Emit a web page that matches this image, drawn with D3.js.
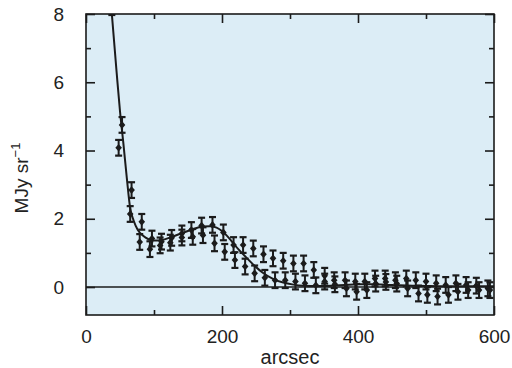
<!DOCTYPE html>
<html><head><meta charset="utf-8">
<script src="https://cdn.jsdelivr.net/npm/d3@7/dist/d3.min.js"></script>
<style>html,body{margin:0;padding:0;background:#fff;}svg{display:block;}</style>
</head><body>
<script>
// ---- data ----
const xTicks = [0, 200, 400, 600];
const xMinor = [100, 300, 500];
const yTicks = [0, 2, 4, 6, 8];
const yMinor = [1, 3, 5, 7];
const xLabel = "arcsec";

// series A (arcsec, MJy/sr)
const aX = [38,53,67,82,97,111,126,141,155,170,186,202,217,231,246,261,275,290,305,320,335,351,365,381,396,410,425,440,455,471,485,500,515,529,544,559,574,591];
const aY = [8.2,4.75,2.84,1.91,1.42,1.33,1.44,1.57,1.67,1.80,1.82,1.60,1.23,1.23,1.13,0.96,0.84,0.77,0.69,0.69,0.50,0.33,0.20,0.20,0.16,0.16,0.25,0.25,0.20,0.25,0.20,0.16,0.11,0.06,0.11,0.06,0.04,-0.04];
// series B
const bX = [48,65,79,94,109,124,141,157,172,189,204,219,234,248,263,278,293,308,322,338,351,366,383,398,413,426,441,457,473,489,502,517,533,547,562,578,594];
const bY = [4.08,2.14,1.32,1.11,1.22,1.30,1.45,1.47,1.52,1.28,1.03,0.79,0.60,0.40,0.27,0.20,0.20,0.16,0.11,0.05,0.16,0.08,-0.04,-0.14,-0.09,0.10,0.15,0.10,-0.04,-0.19,-0.23,-0.28,-0.23,-0.14,-0.09,-0.09,-0.09];
const errBar = 0.23;

// model curve
const cX = [38,45,50,55,60,65,70,76,84,92,100,110,125,140,158,172,182,192,200,210,220,234,248,260,275,290,305,320,340,360,380,400,420,440,460,480,500,530,560,600];
const cY = [8.0,6.3,5.15,4.2,3.2,2.3,1.95,1.68,1.50,1.40,1.36,1.37,1.46,1.57,1.70,1.77,1.78,1.74,1.64,1.44,1.20,0.90,0.62,0.42,0.24,0.13,0.07,0.04,0.03,0.04,0.06,0.08,0.08,0.07,0.05,0.04,0.03,0.02,0.02,0.02];

// ---- layout ----
const W = 512, H = 368;
const L = 86, R = 494, T = 14, B = 315;
const ink = "#1b1b1b";

const x = d3.scaleLinear().domain([0, 600]).range([L, R]);
const y = d3.scaleLinear().domain([-0.82, 8]).range([B, T]);

const svg = d3.select("body").append("svg").attr("width", W).attr("height", H)
  .style("font-family", "'Liberation Sans', Arial, sans-serif");

svg.append("rect").attr("x", L).attr("y", T).attr("width", R - L).attr("height", B - T)
  .attr("fill", "#dcedf6");

svg.append("defs").append("clipPath").attr("id", "clip")
  .append("rect").attr("x", L).attr("y", T).attr("width", R - L).attr("height", B - T);

const plot = svg.append("g").attr("clip-path", "url(#clip)");

// zero line
plot.append("line").attr("x1", L).attr("x2", R).attr("y1", y(0)).attr("y2", y(0))
  .attr("stroke", ink).attr("stroke-width", 1.6);

// curve
const line = d3.line().x((d, i) => x(cX[i])).y((d, i) => y(cY[i])).curve(d3.curveMonotoneX);
plot.append("path").datum(cX).attr("d", line).attr("fill", "none")
  .attr("stroke", ink).attr("stroke-width", 2);

// points with error bars
function drawSeries(xs, ys) {
  const pts = xs.map((v, i) => ({ x: v, y: ys[i] }));
  const g = plot.append("g").selectAll("g").data(pts).join("g")
    .attr("transform", d => `translate(${x(d.x)},0)`);
  g.append("line").attr("x1", 0).attr("x2", 0)
    .attr("y1", d => y(d.y - errBar)).attr("y2", d => y(d.y + errBar))
    .attr("stroke", ink).attr("stroke-width", 2);
  g.append("line").attr("x1", -3.5).attr("x2", 3.5)
    .attr("y1", d => y(d.y - errBar)).attr("y2", d => y(d.y - errBar))
    .attr("stroke", ink).attr("stroke-width", 2.2);
  g.append("line").attr("x1", -3.5).attr("x2", 3.5)
    .attr("y1", d => y(d.y + errBar)).attr("y2", d => y(d.y + errBar))
    .attr("stroke", ink).attr("stroke-width", 2.2);
  g.append("path").attr("d", d => {
      const cy = y(d.y);
      return `M0,${cy - 3.8}L3.3,${cy}L0,${cy + 3.8}L-3.3,${cy}Z`;
    }).attr("fill", ink);
}
drawSeries(aX, aY);
drawSeries(bX, bY);

// frame
svg.append("rect").attr("x", L).attr("y", T).attr("width", R - L).attr("height", B - T)
  .attr("fill", "none").attr("stroke", ink).attr("stroke-width", 1.6);

// axes with inward ticks on all four sides
const fmt = d3.format("d");
function styleAxis(g) {
  g.select(".domain").remove();
  g.selectAll(".tick line").attr("stroke", ink).attr("stroke-width", 1.6);
  g.selectAll("text").attr("fill", "#222");
}
// bottom
svg.append("g").attr("transform", `translate(0,${B})`)
  .call(d3.axisBottom(x).tickValues(xTicks).tickSize(-9).tickPadding(15).tickFormat(fmt))
  .call(styleAxis).selectAll("text").attr("font-size", 19).attr("font-family", "'Liberation Sans', Arial, sans-serif");
svg.append("g").attr("transform", `translate(0,${B})`)
  .call(d3.axisBottom(x).tickValues(xMinor).tickSize(-5).tickFormat(""))
  .call(styleAxis);
// top
svg.append("g").attr("transform", `translate(0,${T})`)
  .call(d3.axisTop(x).tickValues(xTicks).tickSize(-9).tickFormat(""))
  .call(styleAxis);
svg.append("g").attr("transform", `translate(0,${T})`)
  .call(d3.axisTop(x).tickValues(xMinor).tickSize(-5).tickFormat(""))
  .call(styleAxis);
// left
svg.append("g").attr("transform", `translate(${L},0)`)
  .call(d3.axisLeft(y).tickValues(yTicks).tickSize(-9).tickPadding(22).tickFormat(fmt))
  .call(styleAxis).selectAll("text").attr("font-size", 19).attr("font-family", "'Liberation Sans', Arial, sans-serif");
svg.append("g").attr("transform", `translate(${L},0)`)
  .call(d3.axisLeft(y).tickValues(yMinor).tickSize(-5).tickFormat(""))
  .call(styleAxis);
// right
svg.append("g").attr("transform", `translate(${R},0)`)
  .call(d3.axisRight(y).tickValues(yTicks).tickSize(-9).tickFormat(""))
  .call(styleAxis);
svg.append("g").attr("transform", `translate(${R},0)`)
  .call(d3.axisRight(y).tickValues(yMinor).tickSize(-5).tickFormat(""))
  .call(styleAxis);

// axis titles
svg.append("text").attr("x", (L + R) / 2).attr("y", 364).attr("text-anchor", "middle")
  .attr("font-size", 20).attr("fill", "#222").text(xLabel);

const yt = svg.append("text").attr("transform", "translate(28,178) rotate(-90)")
  .attr("text-anchor", "middle").attr("font-size", 19).attr("fill", "#222");
yt.append("tspan").text("MJy sr");
yt.append("tspan").attr("font-size", 13).attr("dy", -8).text("\u22121");
</script>
</body></html>
